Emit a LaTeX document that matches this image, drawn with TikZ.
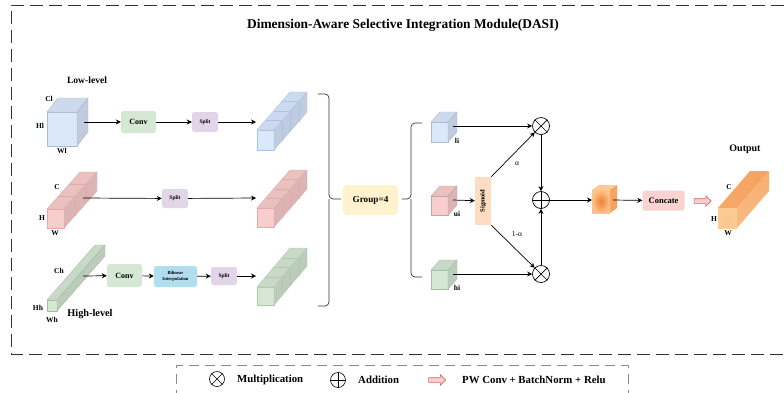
\documentclass[tikz,border=0pt]{standalone}
\usepackage{fontspec}
\setmainfont{Liberation Serif}
\usetikzlibrary{arrows.meta,shapes.arrows}

\definecolor{cblue}{HTML}{DAE8FC}
\definecolor{cblueD}{HTML}{A9C4EB}
\definecolor{cred}{HTML}{F8CECC}
\definecolor{credD}{HTML}{E6A9A6}
\definecolor{cgreen}{HTML}{D5E8D4}
\definecolor{cgreenD}{HTML}{AECCAB}
\definecolor{cpurple}{HTML}{E1D5E7}
\definecolor{cyellow}{HTML}{FFF2CC}
\definecolor{cbil}{HTML}{B1DDF0}
\definecolor{csig}{HTML}{FCDDC2}
\definecolor{cconcat}{HTML}{F9D3CF}
\definecolor{corD}{HTML}{EF7F35}
\definecolor{corM}{HTML}{F5A262}
\definecolor{corL}{HTML}{FCCB94}
\definecolor{corLL}{HTML}{FEDDB0}
\definecolor{pwred}{HTML}{D36B66}
\definecolor{pwfill}{HTML}{F8CECC}

% x y w h dx dy n fill line
\newcommand\dcube[9]{%
  \filldraw[fill=#8, draw=#9, line width=0.4pt] (#1,#2) rectangle ({#1+#3},{#2+#4});
  \filldraw[fill=#8!94!black, draw=#9, line width=0.4pt] (#1,#2) -- ({#1+#5},{#2+#6}) -- ({#1+#3+#5},{#2+#6}) -- ({#1+#3},#2) -- cycle;
  \filldraw[fill=#8!88!black, draw=#9, line width=0.4pt] ({#1+#3},#2) -- ({#1+#3+#5},{#2+#6}) -- ({#1+#3+#5},{#2+#4+#6}) -- ({#1+#3},{#2+#4}) -- cycle;
  \ifnum#7>1
    \pgfmathtruncatemacro\nnm{#7-1}%
    \foreach \i in {1,...,\nnm}{%
      \draw[draw=#9, line width=0.4pt] ({#1+\i/#7*#5},{#2+\i/#7*#6}) -- ({#1+#3+\i/#7*#5},{#2+\i/#7*#6}) -- ({#1+#3+\i/#7*#5},{#2+#4+\i/#7*#6});
    }%
  \fi
}

\tikzset{
  arr/.style={-{Stealth[length=5pt,width=5pt]}, line width=0.7pt, black},
  box/.style={rounded corners=2.5pt, inner sep=0pt, align=center},
  lbl/.style={font=\fontsize{7.5}{8}\selectfont\bfseries, inner sep=0pt},
  mult/.style={circle, draw, line width=0.7pt, minimum size=17pt, inner sep=0pt, fill=white},
  brace/.style={line width=0.7pt, draw=black!80, rounded corners=4pt},
  pw/.style={single arrow, draw=pwred, fill=pwfill, line width=0.6pt, minimum height=17pt, inner sep=2pt, single arrow head extend=3pt},
  outer/.style={dashed, dash pattern=on 13pt off 6pt, line width=0.9pt, black!80},
  legendbox/.style={dash pattern=on 10pt off 6pt, line width=0.8pt, black!45},
  legtxt/.style={font=\fontsize{10.8}{12}\selectfont\bfseries, anchor=west, inner sep=0pt}
}

\begin{document}
\begin{tikzpicture}[x=1pt,y=-1pt]
\useasboundingbox (0,0) rectangle (784,392);

% outer dashed frame
\draw[outer] (784,5) -- (11,5) -- (11,354) -- (784,354);
\node[font=\fontsize{13.4}{15}\selectfont\bfseries] (title) at (403,25) {Dimension-Aware Selective Integration Module(DASI)};

% ---------------- Low level row ----------------
\node[font=\fontsize{9.6}{10}\selectfont\bfseries] (lowlbl) at (87,80) {Low-level};
\dcube{47}{112}{30}{34}{11}{-14}{1}{cblue}{cblue!80!black}
\node[lbl] (cl) at (49,99) {Cl};
\node[lbl] (hl) at (40,126) {Hl};
\node[lbl] (wl) at (62,151) {Wl};
\coordinate (inL) at (84,122);
\node[box, fill=cgreen, minimum width=35pt, minimum height=22pt, font=\fontsize{8}{9}\selectfont\bfseries] (conv1) at (138.5,122) {Conv};
\node[box, fill=cpurple, minimum width=26pt, minimum height=20pt, font=\fontsize{5.5}{6}\selectfont\bfseries] (split1) at (205,122) {Split};
\coordinate (stL) at (256,122);
\draw[arr] (inL) -- (conv1);
\draw[arr] (conv1) -- (split1);
\draw[arr] (split1) -- (stL);
\dcube{257}{130}{17}{20}{33}{-38}{4}{cblue}{cblueD}

% ---------------- Middle row ----------------
\dcube{47}{209}{17}{19}{33}{-37}{3}{cred}{credD}
\node[lbl] (cm) at (57,187) {C};
\node[lbl] (hm) at (42,218) {H};
\node[lbl] (wm) at (55,233) {W};
\coordinate (inM) at (83,198);
\node[box, fill=cpurple, minimum width=26pt, minimum height=19pt, font=\fontsize{5.5}{6}\selectfont\bfseries] (split2) at (175,198.5) {Split};
\coordinate (stM) at (256,198);
\draw[arr] (inM) -- (split2);
\draw[arr] (split2) -- (stM);
\dcube{257}{208}{17}{19}{33}{-38}{4}{cred}{credD}

% ---------------- High level row ----------------
\dcube{47}{300}{10}{11}{48}{-55}{1}{cgreen}{cgreen!80!black}
\node[lbl] (ch) at (59,271) {Ch};
\node[lbl] (hh) at (38,308) {Hh};
\node[lbl] (wh) at (52,320) {Wh};
\node[font=\fontsize{10.3}{11}\selectfont\bfseries] (highlbl) at (90,314) {High-level};
\coordinate (inH) at (83,276);
\node[box, fill=cgreen, minimum width=35pt, minimum height=23pt, font=\fontsize{8}{9}\selectfont\bfseries] (conv2) at (124.5,275.5) {Conv};
\node[box, fill=cbil, minimum width=43pt, minimum height=21pt, font=\fontsize{4.6}{5.6}\selectfont\bfseries] (bil) at (175.5,276.5) {Bilinear\\Interpolation};
\node[box, fill=cpurple, minimum width=26pt, minimum height=18pt, font=\fontsize{5.5}{6}\selectfont\bfseries] (split3) at (224,276) {Split};
\coordinate (stH) at (256,276);
\draw[arr] (inH) -- (conv2);
\draw[arr] (conv2) -- (bil);
\draw[arr] (bil) -- (split3);
\draw[arr] (split3) -- (stH);
\dcube{257}{287}{17}{18}{33}{-39}{4}{cgreen}{cgreenD}

% ---------------- Braces and group ----------------
\draw[brace] (318,94) -| (329,199) -- (341,199);
\draw[brace] (318,306) -| (329,199);
\node[box, rounded corners=4pt, fill=cyellow, minimum width=55pt, minimum height=30pt, font=\fontsize{9.2}{10}\selectfont\bfseries] (group) at (370.5,200) {Group=4};
\draw[brace] (422,123) -| (411,199) -- (402,199);
\draw[brace] (422,277) -| (411,199);

% ---------------- small cubes ----------------
\dcube{431}{122}{17}{20}{9}{-10}{1}{cblue}{cblue!80!black}
\dcube{431}{196}{17}{19}{9}{-10}{1}{cred}{cred!80!black}
\dcube{431}{270}{17}{19}{9}{-10}{1}{cgreen}{cgreen!80!black}
\node[lbl] (li) at (457,141) {li};
\node[lbl] (ui) at (457,214) {ui};
\node[lbl] (hi) at (457,288) {hi};
\coordinate (liR) at (453,126);
\coordinate (uiR) at (453,200);
\coordinate (hiR) at (453,274);

\node[fill=csig, minimum width=16pt, minimum height=48pt, inner sep=0pt, font=\fontsize{6.5}{7}\selectfont\bfseries] (sig) at (483,201) {\rotatebox{90}{Sigmoid}};
\node[mult] (m1) at (541,126) {};
\node[mult] (add) at (541,200) {};
\node[mult] (m2) at (541,274) {};
\draw[line width=0.7pt] (m1.north west) -- (m1.south east) (m1.north east) -- (m1.south west);
\draw[line width=0.7pt] (m2.north west) -- (m2.south east) (m2.north east) -- (m2.south west);
\draw[line width=0.7pt] (add.north) -- (add.south) (add.west) -- (add.east);

\draw[arr] (liR) -- (m1);
\draw[arr] (uiR) -- (sig);
\draw[arr] (hiR) -- (m2);
\draw[arr] (sig.north east) -- (m1);
\draw[arr] (sig.south east) -- (m2);
\node[font=\fontsize{7.5}{8}\selectfont] (alpha) at (517,164) {α};
\node[font=\fontsize{7.5}{8}\selectfont] (oneminus) at (517,234) {1-α};
\draw[arr] (m1) -- (add);
\draw[arr] (m2) -- (add);

% ---------------- fused cube ----------------
\coordinate (oL) at (592,200);
\draw[arr] (add) -- (oL);
\fill[corL] (592,190) -- (599,185) -- (617,185) -- (610,190) -- cycle;
\fill[corM] (610,190) -- (617,185) -- (617,208) -- (610,213) -- cycle;
\shade[inner color=corD, outer color=corL!80!corM] (592,190) rectangle (610,213);
\coordinate (oR) at (613,200);
\node[box, fill=cconcat, minimum width=42pt, minimum height=20pt, font=\fontsize{8.5}{9}\selectfont\bfseries] (concat) at (663.5,200.7) {Concate};
\draw[arr] (oR) -- (concat);
\node[pw] (pwa) at (701.5,201) {};

% ---------------- output ----------------
\shade[left color=corM!85!corL, right color=corM] (718,208) -- (750,171) -- (769,171) -- (737,208) -- cycle;
\shade[top color=corM!70!corL, bottom color=corL!60!corM] (737,208) -- (769,171) -- (769,191) -- (737,228) -- cycle;
\shade[inner color=corL!85!corM, outer color=corL] (718,208) rectangle (737,228);
\node[font=\fontsize{10}{11}\selectfont\bfseries] (outlbl) at (745,149) {Output};
\node[lbl] (co) at (729,187) {C};
\node[lbl] (ho) at (714,219) {H};
\node[lbl] (wo) at (728,233) {W};

% ---------------- legend ----------------
\draw[legendbox] (176,400) -- (176,365) -- (628,365) -- (628,400);
\node[mult, minimum size=15pt, line width=0.6pt] (lm) at (217,379) {};
\draw[line width=0.6pt] (lm.north west) -- (lm.south east) (lm.north east) -- (lm.south west);
\node[legtxt] (lmt) at (237,380) {Multiplication};
\node[mult, minimum size=15pt, line width=0.6pt] (la) at (338,380) {};
\draw[line width=0.6pt] (la.north) -- (la.south) (la.west) -- (la.east);
\node[legtxt] (lat) at (358,380) {Addition};
\node[pw] (lpw) at (436,380) {};
\node[legtxt] (lpwt) at (462,380) {PW Conv + BatchNorm + Relu};
\end{tikzpicture}
\end{document}
